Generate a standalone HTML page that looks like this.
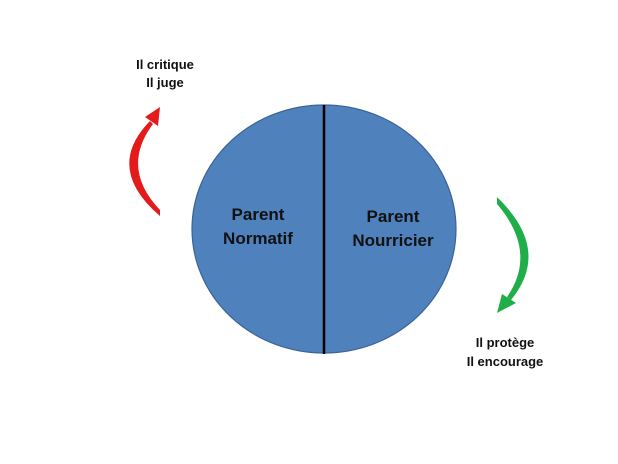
<!DOCTYPE html>
<html><head><meta charset="utf-8"><style>
body{margin:0;background:#fff;}
svg{display:block;}
text{font-family:"Liberation Sans",sans-serif;font-weight:bold;fill:#111;text-anchor:middle;}
</style></head><body>
<svg width="618" height="464" viewBox="0 0 618 464" xmlns="http://www.w3.org/2000/svg">
<rect width="618" height="464" fill="#fff"/>
<ellipse cx="324" cy="229" rx="132" ry="124" fill="#4f81bd" stroke="#3a6496" stroke-width="1.2"/>
<line x1="324" y1="105" x2="324" y2="354" stroke="#000" stroke-width="2.5"/>
<text x="258" y="220" font-size="17">Parent</text>
<text x="258" y="244" font-size="17">Normatif</text>
<text x="393" y="222" font-size="17">Parent</text>
<text x="393" y="246" font-size="17">Nourricier</text>
<!-- red arrow -->
<path d="M160 216 Q104 168 150 121 L153 124 Q120 168 160 210 Z" fill="#e31b1b"/>
<polygon points="145,117 160,107 158,126" fill="#e31b1b"/>
<!-- green arrow -->
<path d="M497 197 Q552 250 511 300 L507 297 Q538 252 497 204 Z" fill="#1fae4a"/>
<polygon points="516,303 497,313 502,294" fill="#1fae4a"/>
<text x="165" y="69" font-size="13">Il critique</text>
<text x="165" y="87" font-size="13">Il juge</text>
<text x="505" y="347" font-size="13">Il protège</text>
<text x="505" y="366" font-size="13">Il encourage</text>
</svg>
</body></html>
